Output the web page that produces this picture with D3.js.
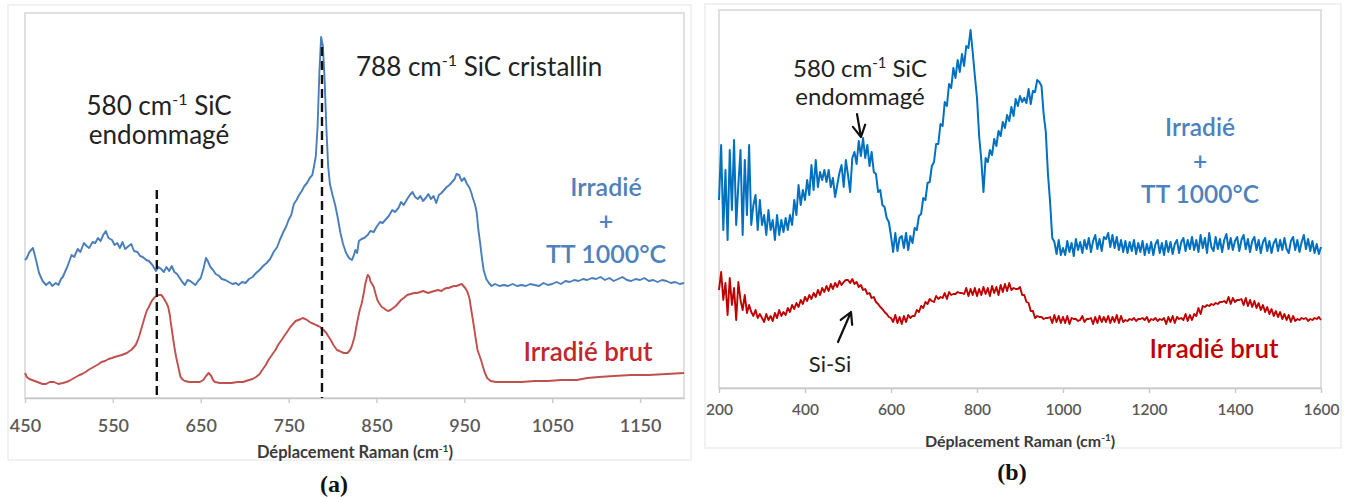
<!DOCTYPE html>
<html>
<head>
<meta charset="utf-8">
<script src="https://cdn.jsdelivr.net/npm/d3@7"></script>
<style>
  html, body { margin: 0; padding: 0; background: #fff; }
  svg { display: block; }
</style>
</head>
<body>
<svg id="fig" width="1355" height="497"></svg>
<script>
// ---------- Panel (a): Raman spectra 450–1200 cm-1, intensity in a.u. ----------
const aTicks = [450, 550, 650, 750, 850, 950, 1050, 1150];
const aMarkers = [600, 788];
const aIrradieTT = [
  [450,138],[452,140],[455,146],[459,150],[462,140],[466,125],[470,117],[474,113],[478,116],[481,112],
  [485,115],[488,113],[491,119],[493,121],[496,127],[498,131],[501,138],[503,143],[506,141],[510,149],
  [513,146],[517,155],[520,152],[523,150],[527,156],[530,155],[533,160],[536,157],[539,163],[542,167],
  [545,160],[549,158],[552,153],[555,155],[558,150],[561,156],[564,149],[568,152],[571,154],[574,147],
  [578,146],[581,142],[584,141],[588,138],[591,137],[595,133],[599,127],[602,131],[605,129],[608,126],
  [611,131],[614,127],[617,132],[620,126],[623,124],[626,120],[629,116],[632,113],[635,118],[638,117],
  [641,115],[644,113],[647,117],[650,120],[653,129],[656,140],[658,137],[661,131],[664,128],[667,124],
  [671,122],[674,119],[678,118],[682,116],[686,114],[690,115],[693,113],[697,116],[701,115],[705,119],
  [709,121],[713,125],[717,128],[721,132],[725,135],[729,139],[733,146],[737,151],[740,158],[744,166],
  [747,171],[750,178],[753,183],[756,194],[759,198],[762,203],[765,207],[768,212],[771,215],[774,220],
  [777,223],[779,232],[781,242],[783,272],[785,325],[787,361],[789,352],[791,318],[793,270],[795,232],
  [797,214],[800,203],[803,193],[806,180],[809,165],[812,154],[815,146],[818,141],[820,139],[822,138],
  [824,142],[826,148],[828,145],[830,157],[833,159],[836,160],[840,163],[843,167],[847,166],[850,171],
  [854,176],[857,175],[861,179],[864,182],[868,188],[871,186],[875,190],[878,196],[881,193],[885,199],
  [888,203],[891,206],[894,201],[897,199],[900,202],[903,197],[906,200],[909,204],[912,199],[915,202],
  [918,195],[921,203],[924,205],[927,208],[930,211],[933,213],[936,216],[939,219],[941,224],[944,223],
  [947,217],[950,220],[953,214],[956,210],[958,205],[960,199],[962,194],[964,186],[966,168],[968,155],
  [970,140],[972,128],[975,119],[978,115],[981,112],[985,114],[990,112],[995,113],[1000,112],[1005,114],
  [1010,112],[1015,113],[1020,112],[1025,114],[1030,113],[1035,112],[1040,115],[1045,113],[1050,114],[1055,116],
  [1060,114],[1065,117],[1070,116],[1075,118],[1080,117],[1085,119],[1090,118],[1095,120],[1100,119],[1105,121],
  [1110,118],[1115,120],[1120,117],[1125,119],[1130,121],[1135,118],[1140,117],[1145,119],[1150,118],[1155,120],
  [1160,117],[1165,118],[1170,116],[1175,118],[1180,117],[1185,115],[1190,116],[1195,114],[1200,115]
];
const aIrradieBrut = [
  [450,25],[452,21],[455,19],[458,18],[461,17],[464,16],[467,15],[470,14],[474,14],[478,16],
  [483,16],[488,14],[493,15],[497,16],[500,17],[504,19],[508,21],[512,23],[515,24],[519,26],
  [522,28],[526,30],[530,32],[534,34],[537,36],[541,37],[545,39],[549,40],[552,41],[556,42],
  [560,43],[563,44],[566,45],[569,47],[571,48],[574,51],[576,53],[578,57],[580,62],[583,71],
  [585,77],[587,83],[589,88],[591,91],[593,95],[595,98],[598,101],[600,102],[602,103],[605,103],
  [607,101],[609,98],[611,95],[613,91],[615,82],[616,75],[618,63],[620,51],[622,41],[624,33],
  [627,21],[630,18],[632,17],[637,16],[643,16],[649,16],[651,17],[653,18],[656,22],[659,25],
  [662,22],[664,18],[666,16],[672,15],[678,15],[685,15],[692,16],[698,16],[705,18],[709,19],
  [713,21],[717,24],[720,28],[724,33],[727,38],[731,43],[735,48],[738,53],[742,58],[745,62],
  [749,67],[752,71],[756,75],[758,77],[761,78],[764,79],[766,80],[769,79],[771,78],[774,76],
  [776,75],[779,74],[781,73],[784,72],[786,71],[788,69],[790,68],[793,65],[795,62],[798,58],
  [801,53],[805,48],[808,47],[810,46],[813,45],[817,45],[820,48],[822,52],[825,61],[827,71],
  [829,80],[831,88],[833,94],[834,98],[836,107],[837,113],[839,120],[840,123],[842,121],[843,117],
  [845,114],[847,111],[849,104],[851,98],[853,95],[856,91],[858,90],[861,88],[863,87],[866,88],
  [869,90],[872,92],[875,95],[878,98],[881,100],[885,103],[889,104],[893,105],[896,105],[900,106],
  [903,107],[906,106],[909,105],[912,106],[916,107],[920,108],[924,107],[927,109],[930,110],[932,110],
  [935,111],[938,112],[941,112],[944,113],[947,114],[949,112],[951,110],[953,107],[954,105],[956,99],
  [957,93],[959,82],[961,71],[963,59],[965,48],[967,43],[969,38],[971,32],[973,26],[976,20],
  [980,17],[986,16],[995,16],[1005,16],[1015,16],[1030,17],[1045,17],[1060,18],[1078,18],[1090,20],
  [1103,21],[1120,22],[1140,23],[1160,23],[1180,24],[1200,25]
];

// ---------- Panel (b): Raman spectra 200–1600 cm-1, sampled every 5 cm-1 ----------
const bTicks = [200, 400, 600, 800, 1000, 1200, 1400, 1600];
const bWavenumber = d3.range(200, 1601, 5);
const bIrradieTT = [
  188,243,158,218,148,238,178,248,163,203,238,153,228,173,243,163,183,193,158,188,
  163,173,153,178,158,168,148,173,153,168,156,170,158,173,163,188,173,203,183,198,
  188,208,193,223,198,228,201,216,208,218,206,218,201,210,191,203,215,223,201,228,
  213,196,230,236,224,247,232,250,230,243,222,236,216,214,196,198,183,181,170,166,
  152,136,155,137,150,152,140,155,138,152,145,160,158,172,174,190,188,205,206,222,
  226,244,244,264,262,286,282,304,300,320,310,328,316,334,322,342,340,358,336,312,
  290,252,228,196,230,226,238,233,249,242,257,252,266,260,273,267,281,272,289,282,
  292,286,290,285,299,284,297,296,308,306,302,274,256,214,186,150,146,134,148,133,
  140,133,147,136,145,132,149,138,146,135,148,139,150,136,147,153,139,149,137,151,
  149,155,141,153,140,151,138,148,136,147,135,146,137,148,134,145,136,147,133,144,
  135,146,133,144,148,135,145,133,147,136,146,134,144,148,135,146,150,137,148,139,
  151,138,148,136,153,140,150,135,155,141,137,151,139,149,136,148,154,139,150,138,
  147,151,137,148,153,139,149,136,147,151,138,148,135,146,150,137,147,135,145,149,
  137,148,138,150,139,135,147,151,138,148,136,146,153,139,149,137,147,135,144,134,141
];
const bIrradieBrut = [
  98,116,88,105,73,110,83,100,68,106,88,78,93,75,83,76,72,78,70,74,
  70,66,74,68,72,67,75,70,78,72,76,73,80,76,83,79,85,81,88,84,
  91,87,93,89,95,91,98,93,100,96,102,97,104,99,105,101,107,103,106,108,
  108,105,109,104,106,101,103,98,99,94,95,90,91,86,84,81,79,76,74,71,
  70,66,73,65,71,64,72,66,73,70,72,72,78,76,82,80,86,84,89,87,
  86,92,89,91,90,95,89,96,93,94,94,96,95,95,94,100,92,99,93,100,
  92,99,93,101,94,100,92,102,95,101,93,103,96,104,97,105,98,100,99,99,
  101,93,93,86,85,77,77,70,72,71,71,69,70,70,71,65,73,66,72,65,
  71,65,72,64,70,69,69,67,68,72,66,69,69,70,64,71,65,72,66,71,
  66,72,65,71,66,73,65,72,66,68,67,69,68,70,67,69,69,70,68,71,
  66,69,68,70,67,69,68,70,64,71,66,72,65,71,69,70,68,74,67,73,
  68,74,72,80,74,82,81,83,82,84,83,85,84,86,86,87,85,91,84,90,
  86,88,88,89,83,90,82,88,81,87,80,85,78,83,76,81,74,79,72,77,
  71,76,69,74,68,73,66,72,67,69,68,70,69,70,67,69,68,70,69,71,68
];

// ---------- drawing ----------
const svg = d3.select("#fig");
const FONT = "Lato, 'Open Sans', sans-serif";
const BLUE_TXT = "#4f81bd", RED_TXT = "#c0282d", INK = "#222";

// multi-line label; each line is a list of [text, isSuperscript] runs
function richText(g, x, y, lines, size, color, opts = {}) {
  const anchor = opts.anchor || "middle", weight = opts.weight || "normal", lh = opts.lh || size * 1.15;
  const t = g.append("text")
    .attr("x", x).attr("y", y)
    .attr("text-anchor", anchor)
    .attr("font-family", FONT)
    .attr("font-size", size)
    .attr("font-weight", weight)
    .attr("fill", color);
  lines.forEach((parts, li) => {
    let raised = false;
    parts.forEach(([s, sup], pi) => {
      const ts = t.append("tspan").text(s);
      let dy = 0;
      if (li > 0 && pi === 0) { ts.attr("x", x); dy += lh; }
      if (sup && !raised) { dy -= size * 0.38; ts.attr("font-size", size * 0.62); raised = true; }
      else if (!sup && raised) { dy += size * 0.38; raised = false; }
      if (dy) ts.attr("dy", dy);
    });
  });
  return t;
}

function panel(cfg) {
  const g = svg.append("g");
  // faint chart-area frame
  g.append("rect").attr("x", cfg.frame[0]).attr("y", cfg.frame[1])
    .attr("width", cfg.frame[2]).attr("height", cfg.frame[3])
    .attr("fill", "none").attr("stroke", "#ededed").attr("stroke-width", 1.5);
  const [x0, x1] = cfg.x.range(), [yb, yt] = cfg.y.range();
  // plot-area box
  g.append("rect").attr("x", x0).attr("y", yt).attr("width", x1 - x0).attr("height", yb - yt)
    .attr("fill", "none").attr("stroke", "#d9d9d9").attr("stroke-width", 1.6);
  // x axis
  const ax = g.append("g").attr("transform", `translate(0,${yb})`)
    .call(d3.axisBottom(cfg.x).tickValues(cfg.ticks).tickFormat(d3.format("d"))
      .tickSize(5).tickSizeOuter(0).tickPadding(cfg.tickPad));
  ax.select(".domain").attr("stroke", "#c8c8c8").attr("stroke-width", 1.6);
  ax.selectAll(".tick line").attr("stroke", "#c8c8c8").attr("stroke-width", 1.4);
  ax.selectAll(".tick text").attr("fill", "#595959").attr("font-family", FONT)
    .attr("font-size", cfg.tickSize).attr("font-weight", 600);
  // axis title
  richText(g, cfg.titlePos[0], cfg.titlePos[1],
    [[["Déplacement Raman (cm"], ["-1", true], [")"]]], cfg.titleSize, "#3a3a3a", { weight: "bold" });
  return g;
}

// Panel (a)
const ax = d3.scaleLinear().domain([450, 1200]).range([25, 684]);
const ay = d3.scaleLinear().domain([0, 385]).range([398, 13]);
const ga = panel({ x: ax, y: ay, ticks: aTicks, frame: [8, 5, 683, 455],
  tickPad: 16, tickSize: 18, titlePos: [355, 458], titleSize: 16.5 });

const lineA = d3.line().x(d => ax(d[0])).y(d => ay(d[1]));
ga.append("path").datum(aIrradieBrut).attr("d", lineA)
  .attr("fill", "none").attr("stroke", "#c0504d").attr("stroke-width", 1.9).attr("stroke-linejoin", "round");
ga.append("path").datum(aIrradieTT).attr("d", lineA)
  .attr("fill", "none").attr("stroke", "#4a7ebb").attr("stroke-width", 1.9).attr("stroke-linejoin", "round");

// dashed band markers
const markerTop = { 600: 208, 788: 351 };
ga.selectAll("line.marker").data(aMarkers).join("line").attr("class", "marker")
  .attr("x1", d => ax(d)).attr("x2", d => ax(d))
  .attr("y1", d => ay(markerTop[d])).attr("y2", ay(0))
  .attr("stroke", "#111").attr("stroke-width", 2.4).attr("stroke-dasharray", "9,5");

richText(ga, 356, 76, [[["788 cm"], ["-1", true], [" SiC cristallin"]]], 26, INK, { anchor: "start" });
richText(ga, 159, 115, [[["580 cm"], ["-1", true], [" SiC"]], [["endommagé"]]], 26, INK, { lh: 29 });
richText(ga, 606, 196, [[["Irradié"]], [["+"]], [["TT 1000°C"]]], 25, BLUE_TXT, { lh: 33.5, weight: 600 });
richText(ga, 588, 361, [[["Irradié brut"]]], 26, RED_TXT, { weight: 600 });

// Panel (b)
const bx = d3.scaleLinear().domain([200, 1600]).range([719, 1321]);
const by = d3.scaleLinear().domain([0, 378]).range([388, 10]);
const gb = panel({ x: bx, y: by, ticks: bTicks, frame: [705, 4, 636, 444],
  tickPad: 11, tickSize: 15.5, titlePos: [1020, 447], titleSize: 16 });

const lineB = d3.line().x((d, i) => bx(bWavenumber[i])).y(d => by(d));
gb.append("path").datum(bIrradieBrut).attr("d", lineB)
  .attr("fill", "none").attr("stroke", "#c00000").attr("stroke-width", 1.9).attr("stroke-linejoin", "round");
gb.append("path").datum(bIrradieTT).attr("d", lineB)
  .attr("fill", "none").attr("stroke", "#0070c0").attr("stroke-width", 2).attr("stroke-linejoin", "round");

richText(gb, 860, 77, [[["580 cm"], ["-1", true], [" SiC"]], [["endommagé"]]], 24, INK, { lh: 28 });
richText(gb, 1200, 136, [[["Irradié"]], [["+"]], [["TT 1000°C"]]], 24.5, BLUE_TXT, { lh: 33.5, weight: 600 });
richText(gb, 1214, 358, [[["Irradié brut"]]], 26, "#c00000", { weight: 600 });
richText(gb, 830, 372, [[["Si-Si"]]], 22, INK);

// annotation arrows
function arrow(g, from, to) {
  const ang = Math.atan2(to[1] - from[1], to[0] - from[0]);
  const L = 13, spread = 0.5;
  const w1 = [to[0] - L * Math.cos(ang - spread), to[1] - L * Math.sin(ang - spread)];
  const w2 = [to[0] - L * Math.cos(ang + spread), to[1] - L * Math.sin(ang + spread)];
  g.append("path")
    .attr("d", `M${from}L${to}M${w1}L${to}L${w2}`)
    .attr("fill", "none").attr("stroke", "#111").attr("stroke-width", 2.2)
    .attr("stroke-linecap", "round").attr("stroke-linejoin", "round");
}
arrow(gb, [857, 114], [861, 137]);
arrow(gb, [838, 342], [851, 312]);

// panel captions
svg.append("text").attr("x", 334).attr("y", 492).attr("text-anchor", "middle")
  .attr("font-family", "'Liberation Serif', 'Times New Roman', serif")
  .attr("font-weight", "bold").attr("font-size", 24).attr("fill", "#111").text("(a)");
svg.append("text").attr("x", 1012).attr("y", 480).attr("text-anchor", "middle")
  .attr("font-family", "'Liberation Serif', 'Times New Roman', serif")
  .attr("font-weight", "bold").attr("font-size", 24).attr("fill", "#111").text("(b)");
</script>
</body>
</html>
